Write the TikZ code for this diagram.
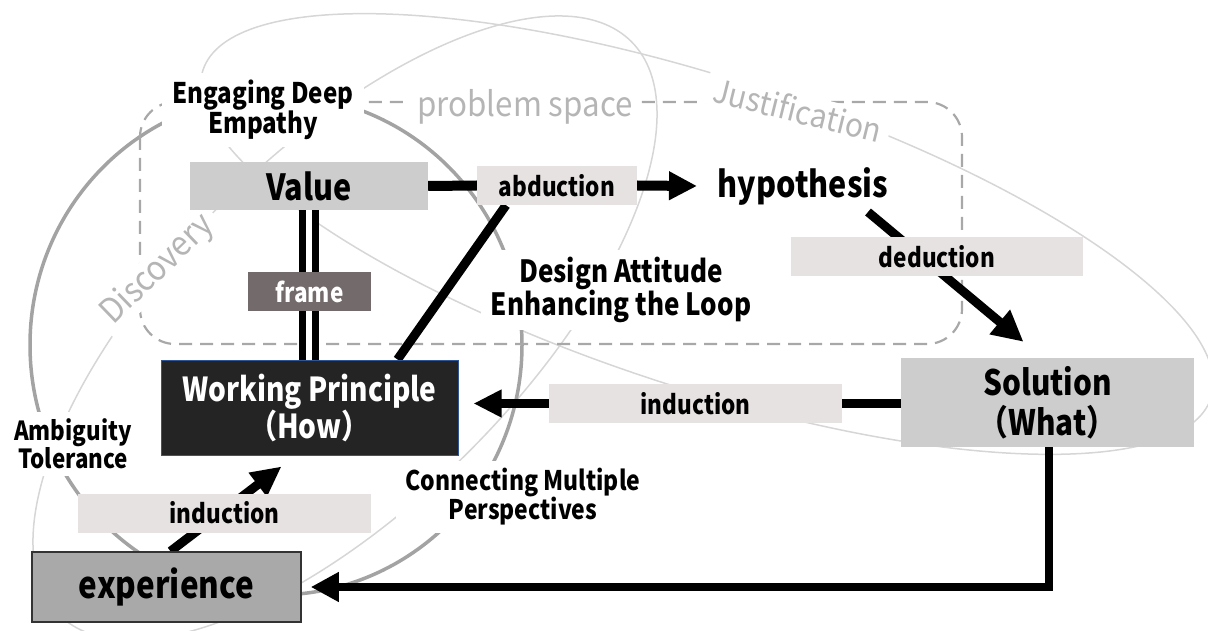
\documentclass[tikz,border=0pt]{standalone}
\usepackage{fontspec}
\setmainfont{Noto Sans CJK JP}[FakeStretch=0.85]
\newfontfamily\gfont{Noto Sans CJK JP}[FakeStretch=0.92]
\usetikzlibrary{arrows.meta,calc}
\definecolor{lblgray}{HTML}{E7E2E2}
\definecolor{boxgray}{HTML}{CDCDCD}
\definecolor{expgray}{HTML}{A9A9A9}
\definecolor{wpfill}{HTML}{242424}
\definecolor{wpborder}{HTML}{2F5597}
\definecolor{framefill}{HTML}{736B6B}
\definecolor{circgray}{HTML}{A3A3A3}
\definecolor{lightline}{HTML}{D6D6D6}
\definecolor{dashgray}{HTML}{A8A8A8}
\definecolor{txtgray}{HTML}{B5B5B5}
\pgfdeclarelayer{l1}\pgfdeclarelayer{l2}\pgfdeclarelayer{l3}
\pgfsetlayers{l1,l2,l3,main}
\newcommand{\fsz}[2]{\fontsize{#1pt}{#2pt}\selectfont}
\tikzset{
  lbl/.style={fill=lblgray, minimum height=39pt, inner sep=0pt, font=\bfseries\fsz{26.5}{30}},
  bigbox/.style={inner sep=0pt, align=center},
  conn/.style={draw=black, line width=9pt},
  wtxt/.style={fill=white, inner xsep=10pt, inner ysep=7pt, align=center, font=\bfseries},
  gtxt/.style={fill=white, text=txtgray, inner xsep=8pt, inner ysep=3pt},
  lightell/.style={draw=lightline, line width=1.5pt},
}
\begin{document}
\begin{tikzpicture}[x=1pt,y=-1pt]
\useasboundingbox (0,0) rectangle (1208,631);
% ---------- main boxes ----------
\node[bigbox, fill=boxgray, minimum width=238pt, minimum height=48pt, font=\bfseries\fsz{36}{40}] (value) at (309,186) {Value};
\node[lbl, minimum width=160pt] (abd) at (557,185.5) {abduction};
\node[inner sep=0pt, font=\bfseries\fsz{36}{40}] (hyp) at (803,186) {hypothesis};
\node[lbl, minimum width=292pt] (ded) at (937,257) {deduction};
\node[bigbox, fill=boxgray, minimum width=293pt, minimum height=89pt, font=\bfseries\fsz{35}{40}] (sol) at (1047.5,402.5) {Solution\\（What）};
\node[lbl, minimum width=293pt] (ind1) at (695.5,403.5) {induction};
\node[bigbox, fill=wpfill, draw=wpborder, line width=1pt, text=white, minimum width=297pt, minimum height=95pt, font=\bfseries\fsz{33}{37}] (wp) at (309.5,407.5) {Working Principle\\（How）};
\node[lbl, fill=framefill, text=white, minimum width=123pt] (frame) at (309.5,291.5) {frame};
\node[lbl, minimum width=293pt] (ind2) at (224.5,513) {induction};
\node[bigbox, fill=expgray, draw=black!80, line width=1.5pt, minimum width=269pt, minimum height=70pt, font=\bfseries\fsz{37}{40}] (exp) at (166.5,587) {experience};
% ---------- background shapes ----------
\begin{pgfonlayer}{l1}
\draw[lightell, rotate around={-18:(707,234)}] (707,234) ellipse [x radius=530pt, y radius=155pt];
\draw[lightell, rotate around={45:(345,328)}] (345,328) ellipse [x radius=405pt, y radius=175pt];
\draw[draw=circgray, line width=3.5pt] (276,345) ellipse [x radius=246pt, y radius=250pt];
\draw[draw=dashgray, line width=2.2pt, dash pattern=on 13pt off 8pt, rounded corners=35pt] (140,102) rectangle (962,344);
\end{pgfonlayer}
% ---------- free text labels ----------
\begin{pgfonlayer}{l2}
\node[wtxt, font=\bfseries\fsz{28.4}{28}] (emp) at (263,110) {Engaging Deep\\Empathy};
\node[gtxt, font=\gfont\fsz{34}{36}] (ps) at (525,107) {problem space};
\node[gtxt, font=\gfont\fsz{32.5}{34}, rotate=-14] (just) at (798,110) {Justification};
\node[gtxt, font=\gfont\fsz{34}{36}, rotate=44, inner ysep=1pt] (disc) at (158,270) {Discovery};
\node[wtxt, font=\bfseries\fsz{30.6}{33}] (design) at (621,290) {Design Attitude\\Enhancing the Loop};
\node[wtxt, font=\bfseries\fsz{26.3}{28}, inner xsep=6pt] (amb) at (73,444) {Ambiguity\\Tolerance};
\node[wtxt, font=\bfseries\fsz{27}{29}] (conn) at (523,497) {Connecting Multiple\\Perspectives};
\end{pgfonlayer}
% ---------- connectors ----------
\begin{pgfonlayer}{l3}
\draw[conn, line width=10pt] (value.east) -- (abd.west);
\draw[conn, line width=10pt, -{Triangle[length=28pt,width=27pt]}] (abd.east) -- ([xshift=-106pt]hyp.center);
\draw[conn, -{Triangle[length=31pt,width=30pt]}] ([xshift=65pt,yshift=-26pt]hyp.center) -- ([xshift=-24pt,yshift=16pt]sol.north);
\draw[conn] (sol.west |- ind1.east) -- (ind1.east);
\coordinate (wpE) at ([xshift=15pt]wp.east);
\draw[conn, -{Triangle[length=28pt,width=26pt]}] (ind1.west) -- (ind1.west -| wpE);
\draw[conn, line width=8pt, line join=miter, -{Triangle[length=28pt,width=28pt]}] ([xshift=1.5pt]sol.south) |- ([xshift=9pt]exp.east);
\draw[conn] ([xshift=88pt]wp.north) -- ([xshift=-51pt]abd.south);
\draw[conn, -{Triangle[length=30pt,width=28pt]}] ([xshift=4pt]exp.north) -- ([xshift=-28pt,yshift=-11pt]wp.south);
\draw[line width=7pt, double=white, double distance=6pt] (value.south) -- (value.south |- wp.north);
\end{pgfonlayer}
\end{tikzpicture}
\end{document}
